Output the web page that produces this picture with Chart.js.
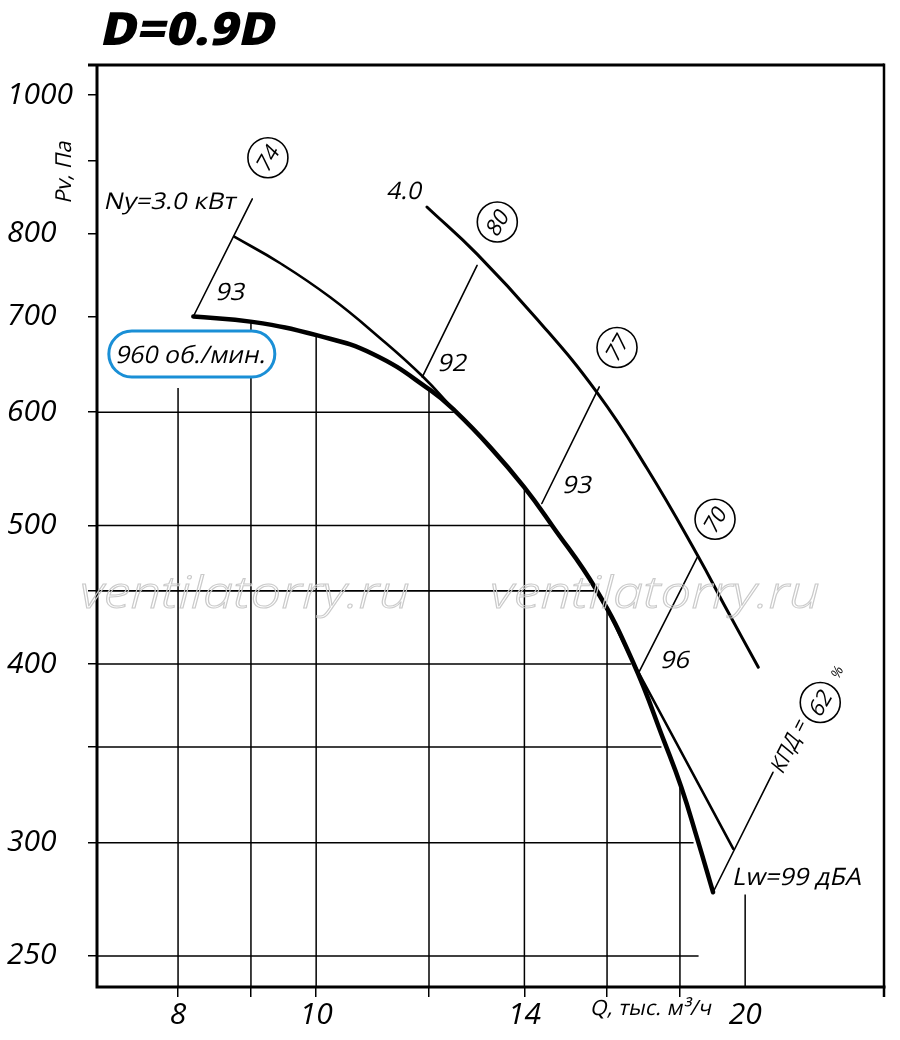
<!DOCTYPE html>
<html>
<head>
<meta charset="utf-8">
<script src="https://cdn.jsdelivr.net/npm/chart.js@4.4.1/dist/chart.umd.min.js"></script>
<style>
html, body { margin: 0; padding: 0; background: #fff; }
#Wrap { width: 900px; height: 1040px; }
</style>
</head>
<body>
<div id="Wrap"><canvas id="Fan_Chart" width="900" height="1040"></canvas></div>
<script>
// axis limits (log-log sheet)
const Q_Min = 7.018, Q_Max = 25.03;
const P_Min = 237.8, P_Max = 1049.5;

const X_Ticks = [8, 9, 10, 12, 14, 16, 18, 20];
const X_Labels = ["8", "", "10", "", "14", "", "", "20"];
const Y_Ticks = [250, 300, 350, 400, 450, 500, 600, 700, 800, 900, 1000];
const Y_Labels = ["250", "300", "", "400", "", "500", "600", "700", "800", "", "1000"];

// fan curve, 960 rpm
const Fan_Q = [8.20, 9.02, 10.02, 10.96, 12.02, 12.52, 13.25, 13.99, 14.64, 15.72, 16.69, 17.55, 18.04, 18.51, 18.99];
const Fan_P = [700, 694, 679, 659, 622, 601, 567, 532, 500, 451, 401, 353, 328, 302, 277];

// motor limit 3.0 kW
const Ny3_Q = [8.76, 9.43, 10.23, 11.09, 11.87, 12.52, 13.25, 13.99, 14.64, 15.72, 16.69];
const Ny3_P = [796, 763, 722, 676, 636, 601, 567, 532, 500, 451, 401];
const Ny3_Tail_Q = [16.69, 19.62];
const Ny3_Tail_P = [401, 297];

// motor limit 4.0 kW
const Ny4_Q = [11.96, 12.97, 14.29, 15.75, 17.07, 18.51, 19.43, 20.43];
const Ny4_P = [835, 774, 697, 619, 548, 477, 436, 398];

// efficiency rays
const Ray_Q = [[8.20, 9.02], [11.87, 12.97], [14.40, 15.80], [16.83, 18.51], [18.99, 20.92]];
const Ray_P = [[700, 846], [635, 760], [518, 625], [394, 475], [277, 336]];
const Ray_Eff = ["74", "80", "77", "70", "62"];
const Ray_Eff_Q = [9.25, 13.4, 16.26, 19.05, 22.58];
const Ray_Eff_P = [904, 815, 666, 505, 376];
const Ray_Lw = ["93", "92", "93", "96"];
const Ray_Lw_Q = [8.72, 12.48, 15.27, 17.89];
const Ray_Lw_P = [729, 650, 534, 403];

// grid segments under the curve
const Grid_V_Q = [8, 9, 10, 12, 14, 16, 18, 20];
const Grid_V_Top = [624, 694, 679, 622, 532, 437, 328, 276];
const Grid_H_P = [600, 500, 450, 400, 350, 300, 250];
const Grid_H_End = [12.49, 14.61, 15.68, 16.64, 17.47, 18.40, 18.55];

const Font_Family = "'Open Sans', 'Noto Sans', sans-serif";

function Zip_Points(Qs, Ps) {
    return Qs.map(function (Q, I) { return { x: Q, y: Ps[I] }; });
}

function Make_Line(Points, Width, Order, Smooth) {
    return {
        data: Points,
        showLine: true,
        borderColor: "#000",
        borderWidth: Width,
        pointRadius: 0,
        tension: Smooth ? 0.45 : 0,
        borderCapStyle: Order === 5 ? "butt" : "round",
        borderJoinStyle: "round",
        order: Order
    };
}

function Build_Datasets() {
    const Sets = [];
    Sets.push(Make_Line(Zip_Points(Fan_Q, Fan_P), 4.5, 1, true));
    Sets.push(Make_Line(Zip_Points(Ny3_Q, Ny3_P), 2.6, 2, true));
    Sets.push(Make_Line(Zip_Points(Ny3_Tail_Q, Ny3_Tail_P), 2.6, 2, false));
    Sets.push(Make_Line(Zip_Points(Ny4_Q, Ny4_P), 3, 2, true));
    Ray_Q.forEach(function (Qs, I) {
        Sets.push(Make_Line(Zip_Points(Qs, Ray_P[I]), 1.6, 3, false));
    });
    Grid_V_Q.forEach(function (Q, I) {
        Sets.push(Make_Line([{ x: Q, y: P_Min }, { x: Q, y: Grid_V_Top[I] }], 1.5, 5, false));
    });
    Grid_H_P.forEach(function (P, I) {
        Sets.push(Make_Line([{ x: Q_Min, y: P }, { x: Grid_H_End[I], y: P }], 1.6, 5, false));
    });
    return Sets;
}

// slanted upright glyphs, like the drawing's oblique lettering
function Draw_Text(Ctx, Text, X, Y, Size, Width, Angle, Weight) {
    Ctx.save();
    Ctx.translate(X, Y);
    if (Angle) Ctx.rotate(Angle * Math.PI / 180);
    Ctx.transform(1, 0, -0.22, 1, 0, 0);
    Ctx.font = (Weight || 400) + " " + Size + "px " + Font_Family;
    Ctx.textAlign = "center";
    Ctx.textBaseline = "alphabetic";
    if (Width) {
        const M = Ctx.measureText(Text).width;
        Ctx.scale(Width / M, 1);
    }
    Ctx.fillStyle = "#000";
    Ctx.fillText(Text, 0, Size * 0.357);
    Ctx.restore();
}

function Draw_Circled(Ctx, Text, X, Y) {
    Ctx.save();
    Ctx.beginPath();
    Ctx.arc(X, Y, 20, 0, Math.PI * 2);
    Ctx.lineWidth = 1.6;
    Ctx.strokeStyle = "#000";
    Ctx.stroke();
    Ctx.restore();
    Draw_Text(Ctx, Text, X, Y, 22, 0, -60);
}

const Sheet_Decor = {
    id: "Sheet_Decor",
    afterDraw: function (Chart_Obj) {
        const Ctx = Chart_Obj.ctx;
        const Sx = Chart_Obj.scales.x, Sy = Chart_Obj.scales.y;
        const A = Chart_Obj.chartArea;
        const Px = function (Q) { return Sx.getPixelForValue(Q); };
        const Py = function (P) { return Sy.getPixelForValue(P); };

        // frame
        Ctx.save();
        Ctx.strokeStyle = "#000";
        Ctx.lineWidth = 3;
        Ctx.beginPath();
        Ctx.moveTo(A.left - 9, A.top); Ctx.lineTo(A.right, A.top);
        Ctx.moveTo(A.left, A.top - 1.5); Ctx.lineTo(A.left, A.bottom + 1.5);
        Ctx.moveTo(A.left - 1.5, A.bottom); Ctx.lineTo(A.right + 1.5, A.bottom);
        Ctx.stroke();
        Ctx.lineWidth = 2.5;
        Ctx.beginPath();
        Ctx.moveTo(A.right, A.top - 1.5); Ctx.lineTo(A.right, A.bottom + 10);
        Ctx.stroke();
        Ctx.restore();

        // rpm box
        const Bx = Px(8.18), By = Py(659);
        Ctx.save();
        Ctx.beginPath();
        Ctx.roundRect(Bx - 83, By - 23, 166, 46, 23);
        Ctx.fillStyle = "#fff";
        Ctx.fill();
        Ctx.lineWidth = 3;
        Ctx.strokeStyle = "#1a8fd6";
        Ctx.stroke();
        Ctx.restore();
        Draw_Text(Ctx, "960 об./мин.", Bx, By, 24, 150);

        // ray labels
        Ray_Eff.forEach(function (T, I) { Draw_Circled(Ctx, T, Px(Ray_Eff_Q[I]), Py(Ray_Eff_P[I])); });
        Ray_Lw.forEach(function (T, I) { Draw_Text(Ctx, T, Px(Ray_Lw_Q[I]), Py(Ray_Lw_P[I]), 24, 29); });

        Draw_Text(Ctx, "Ny=3.0 кВт", Px(7.91), Py(843), 23, 132);
        Draw_Text(Ctx, "4.0", Px(11.55), Py(857), 24, 35);
        Draw_Text(Ctx, "Lw=99 дБА", Px(21.79), Py(284), 24, 129);
        Draw_Text(Ctx, "КПД =", Px(21.47), Py(351), 22, 56, -63);
        Draw_Text(Ctx, "%", Px(23.2), Py(395), 14, 0, -63);

        // titles
        Draw_Text(Ctx, "D=0.9D", 190, 29, 46, 175, 0, 800);
        Draw_Text(Ctx, "Pv, Па", 63, 171, 22, 62, -90);
        Draw_Text(Ctx, "Q, тыс. м³/ч", 652, 1008, 21, 121);

        // watermark
        Ctx.save();
        Ctx.font = "italic 300 44px " + Font_Family;
        Ctx.textAlign = "center";
        Ctx.textBaseline = "alphabetic";
        Ctx.strokeStyle = "#cacaca";
        Ctx.lineWidth = 1;
        [245, 655].forEach(function (Cx) {
            Ctx.save();
            Ctx.translate(Cx, 608);
            const M = Ctx.measureText("ventilatorry.ru").width;
            Ctx.scale(330 / M, 1);
            Ctx.strokeText("ventilatorry.ru", 0, 0);
            Ctx.restore();
        });
        Ctx.restore();
    }
};

function Build_Chart() {
    const Canvas = document.getElementById("Fan_Chart");
    new Chart(Canvas, {
        type: "scatter",
        data: { datasets: Build_Datasets() },
        options: {
            responsive: false,
            animation: false,
            events: [],
            layout: { padding: { top: 65, right: 16, left: 7, bottom: 0 } },
            plugins: { legend: { display: false }, tooltip: { enabled: false } },
            scales: {
                x: {
                    type: "logarithmic",
                    min: Q_Min,
                    max: Q_Max,
                    afterFit: function (S) { S.height = 53; },
                    afterBuildTicks: function (S) { S.ticks = X_Ticks.map(function (V) { return { value: V }; }); },
                    border: { display: false },
                    grid: {
                        drawOnChartArea: false,
                        drawTicks: true,
                        tickLength: 10,
                        lineWidth: 1.5,
                        color: "#000",
                        tickColor: function (C) { return C.tick && C.tick.value === 20 ? "rgba(0,0,0,0)" : "#000"; }
                    },
                    ticks: {
                        autoSkip: false,
                        maxRotation: 0,
                        padding: 0,
                        color: "#000",
                        font: { family: Font_Family, style: "italic", size: 30 },
                        callback: function (V, I) { return X_Labels[I]; }
                    }
                },
                y: {
                    type: "logarithmic",
                    min: P_Min,
                    max: P_Max,
                    afterFit: function (S) { S.width = 90; },
                    afterBuildTicks: function (S) { S.ticks = Y_Ticks.map(function (V) { return { value: V }; }); },
                    border: { display: false },
                    grid: {
                        drawOnChartArea: false,
                        drawTicks: true,
                        tickLength: 9,
                        lineWidth: 1.5,
                        color: "#000"
                    },
                    ticks: {
                        autoSkip: false,
                        crossAlign: "far",
                        padding: 13,
                        color: "#000",
                        font: { family: Font_Family, style: "italic", size: 30 },
                        callback: function (V, I) { return Y_Labels[I]; }
                    }
                }
            }
        },
        plugins: [Sheet_Decor]
    });
}

if (document.fonts && document.fonts.load) {
    document.fonts.load("italic 30px 'Open Sans'").then(Build_Chart, Build_Chart);
} else {
    Build_Chart();
}
</script>
</body>
</html>
